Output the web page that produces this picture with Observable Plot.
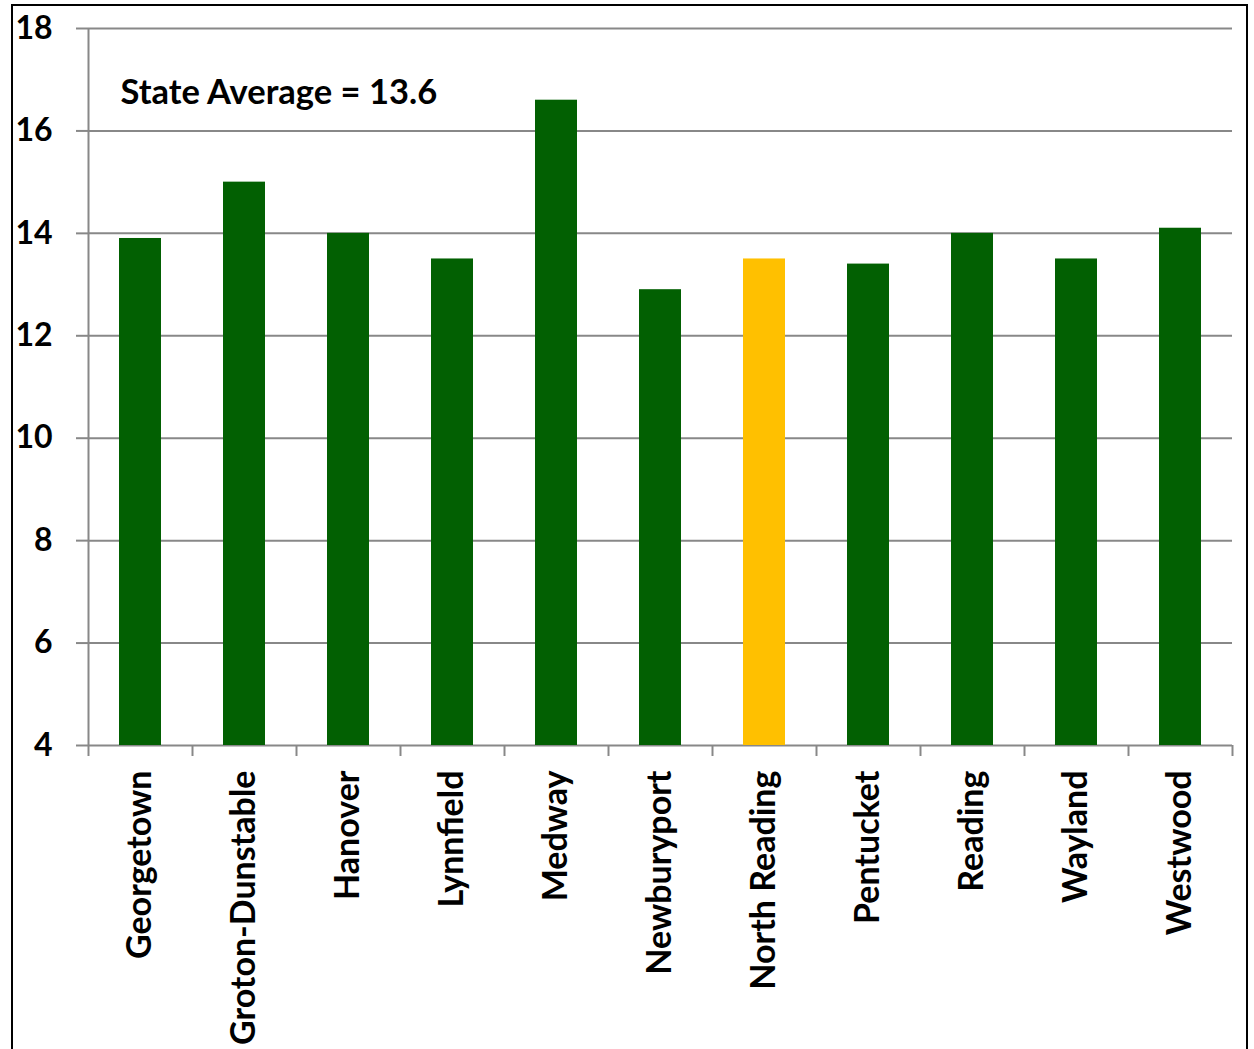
<!DOCTYPE html>
<html>
<head>
<meta charset="utf-8">
<script src="https://cdn.jsdelivr.net/npm/d3@7"></script>
<script src="https://cdn.jsdelivr.net/npm/@observablehq/plot@0.6"></script>
<style>
  html, body { margin: 0; padding: 0; background: #fff; }
  #wrap { position: relative; width: 1254px; height: 1049px; overflow: hidden; }
  #border { position: absolute; left: 11px; top: 4px; width: 1233px; height: 1100px;
            border: 2px solid #000; border-bottom: none; pointer-events: none; }
</style>
</head>
<body>
<div id="wrap"><div id="border"></div></div>
<script>
const categories = ["Georgetown", "Groton-Dunstable", "Hanover", "Lynnfield", "Medway",
  "Newburyport", "North Reading", "Pentucket", "Reading", "Wayland", "Westwood"];
const values = [13.9, 15.0, 14.0, 13.5, 16.6, 12.9, 13.5, 13.4, 14.0, 13.5, 14.1];
const highlighted = "North Reading";
const yTicks = [4, 6, 8, 10, 12, 14, 16, 18];
const annotation = ["State Average = 13.6"];

const data = categories.map((name, i) => ({name, value: values[i]}));

const W = 1254, H = 1049, ML = 88, MR = 22, MT = 28, MB = 304;
const step = (W - ML - MR) / categories.length;
const gray = "#888888";
const font = "Lato, 'Open Sans', sans-serif";

const chart = Plot.plot({
  width: W, height: H,
  marginLeft: ML, marginRight: MR, marginTop: MT, marginBottom: MB,
  style: {fontFamily: font, background: "transparent"},
  x: {domain: categories, paddingInner: 0.6, paddingOuter: 0.3, label: null},
  y: {domain: [4, 18], label: null},
  marks: [
    Plot.ruleY(yTicks, {stroke: gray, strokeWidth: 2}),
    Plot.ruleX([categories[0]], {dx: -step / 2, y1: 4, y2: 18, stroke: gray, strokeWidth: 2}),
    Plot.ruleX(categories, {dx: -step / 2, y1: 4, y2: 4, insetBottom: -11, stroke: gray, strokeWidth: 2}),
    Plot.ruleX([categories[categories.length - 1]], {dx: step / 2, y1: 4, y2: 4, insetBottom: -11, stroke: gray, strokeWidth: 2}),
    Plot.barY(data, {x: "name", y1: 4, y2: "value",
      fill: d => d.name === highlighted ? "#FFC000" : "#026002"}),
    Plot.axisY({ticks: yTicks, tickSize: 12, tickPadding: 24, stroke: gray, strokeWidth: 2,
      fill: "#000", fontSize: 32, fontWeight: "bold", label: null}),
    Plot.axisX({tickSize: 0, tickRotate: -90, tickPadding: 25,
      fill: "#000", fontSize: 34, fontWeight: "bold", label: null}),
    Plot.text(annotation, {text: d => d, frameAnchor: "top-left", dx: 32, dy: 64,
      textAnchor: "start", lineAnchor: "middle", fontSize: 34.5, fontWeight: "bold", fill: "#000"})
  ]
});
document.getElementById("wrap").prepend(chart);
</script>
</body>
</html>
